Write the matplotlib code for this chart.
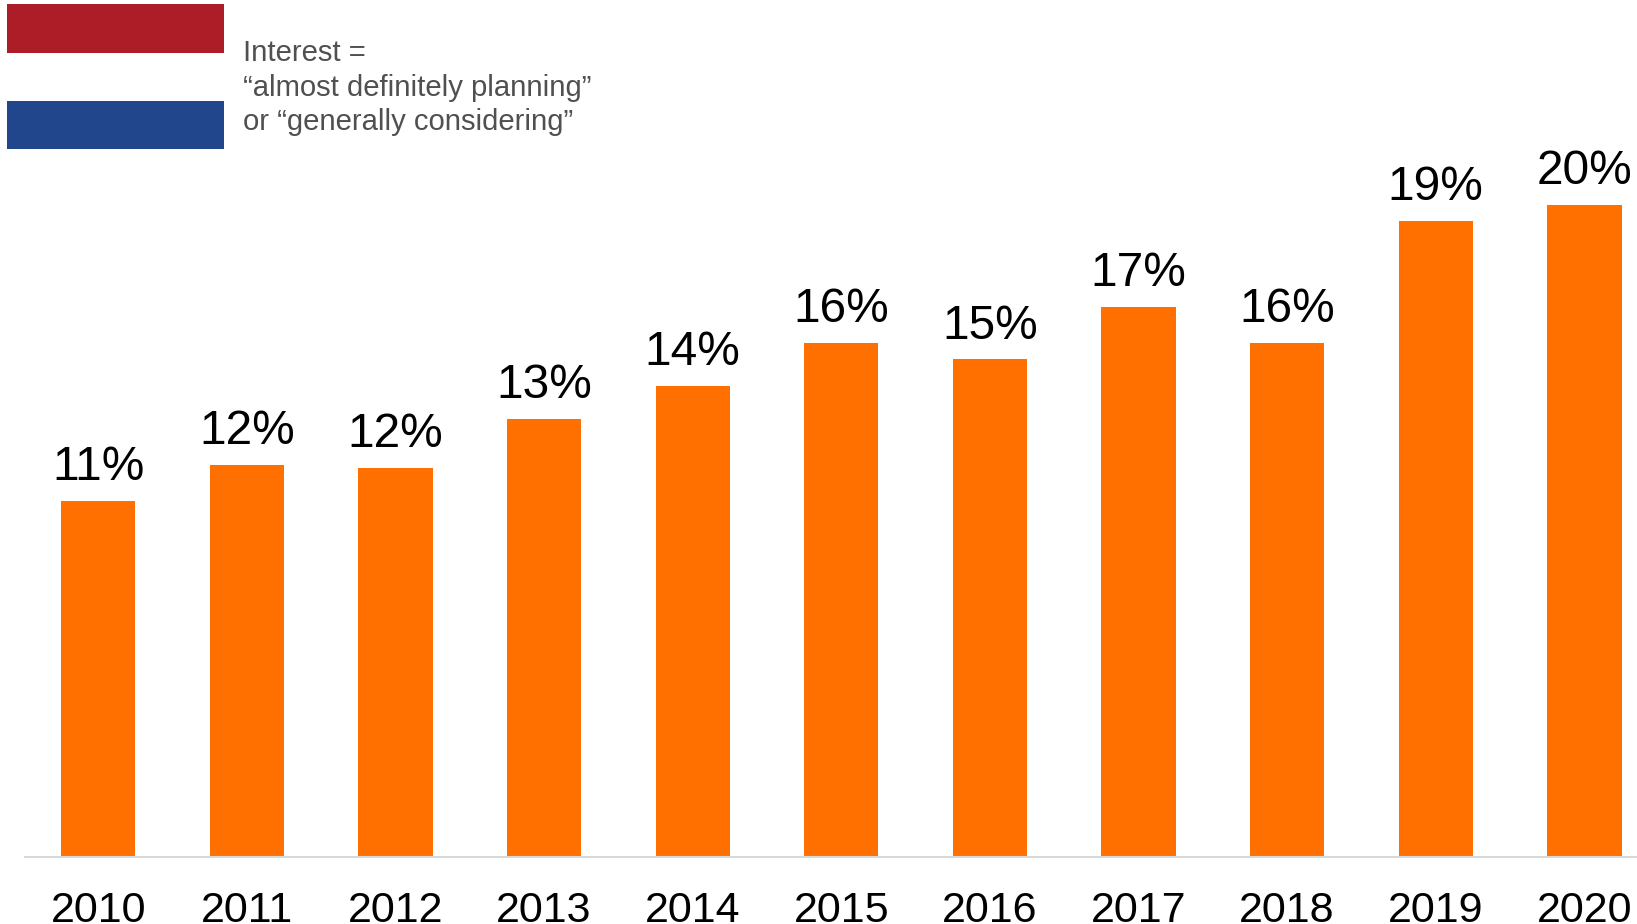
import matplotlib.pyplot as plt
from matplotlib.patches import Rectangle

plt.rcParams['font.family'] = ['Liberation Sans', 'DejaVu Sans']

years = ["2010", "2011", "2012", "2013", "2014", "2015", "2016", "2017", "2018", "2019", "2020"]
interest = [10.8, 11.87, 11.78, 13.27, 14.27, 15.57, 15.08, 16.67, 15.57, 19.27, 19.76]
note_lines = ["Interest =", "“almost definitely planning”", "or “generally considering”"]

W, H = 1637, 924
fig = plt.figure(figsize=(W / 100, H / 100), dpi=100)

# axes box in pixels, one unit of y is 33 px
left, right, base = 25, 1637, 857
top = 0
ax = fig.add_axes([left / W, (H - base) / H, (right - left) / W, (base - top) / H])

xs = list(range(len(years)))
ax.bar(xs, interest, width=0.5, color="#FF7000")
ax.set_xlim(-0.493, 10.354)
ax.set_ylim(0, base / 33.0)

for x, v in zip(xs, interest):
    ax.annotate(f"{v:.0f}%", (x, v), xytext=(0, 15), textcoords="offset points",
                ha="center", va="baseline", fontsize=34.4, color="black")

ax.set_xticks(xs)
ax.set_xticklabels(years, fontsize=31, color="black")
ax.tick_params(axis="x", length=0, pad=24.3)
ax.set_yticks([])
for s in ["top", "left", "right"]:
    ax.spines[s].set_visible(False)
ax.spines["bottom"].set_color("#D9D9D9")
ax.spines["bottom"].set_linewidth(1.5)
ax.patch.set_alpha(0)

# flag in the top left corner
fig.patches.append(Rectangle((7 / W, 1 - 52.5 / H), 217 / W, 48.5 / H, transform=fig.transFigure,
                             facecolor="#AD1D28", edgecolor="none"))
fig.patches.append(Rectangle((7 / W, 1 - 149 / H), 217 / W, 48.5 / H, transform=fig.transFigure,
                             facecolor="#21468B", edgecolor="none"))

for line, y in zip(note_lines, [53, 88, 122.5]):
    fig.text(243 / W, 1 - y / H, line, fontsize=21.1, color="#505050", ha="left", va="center")

fig.savefig("out.png", dpi=100)
